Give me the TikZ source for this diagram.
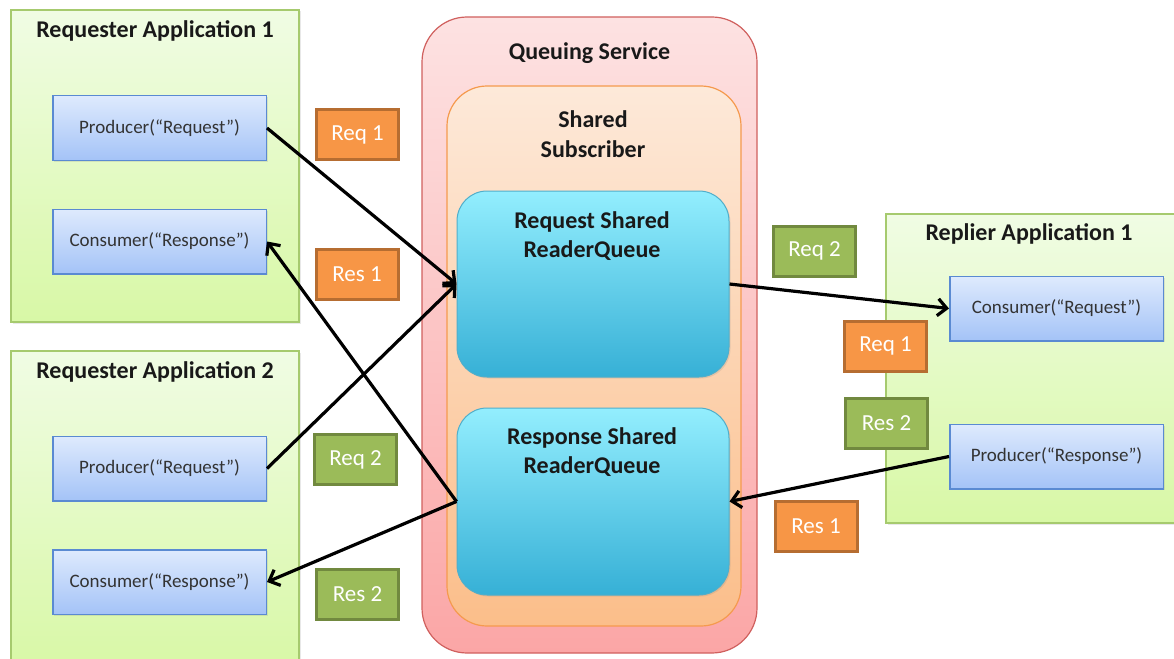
\documentclass[tikz,border=0pt]{standalone}
\usepackage{fontspec}
\setmainfont{Carlito}
\usetikzlibrary{arrows.meta,shadows,positioning}

% Colours
\definecolor{appTop}{HTML}{F0FCE4}
\definecolor{appBot}{HTML}{D8F8A6}
\definecolor{appLine}{HTML}{A6CA6E}
\definecolor{pcTop}{HTML}{DEEAFD}
\definecolor{pcBot}{HTML}{A4C3F7}
\definecolor{pcLine}{HTML}{5A8AD2}
\definecolor{qsTop}{HTML}{FDE2E2}
\definecolor{qsBot}{HTML}{FBA6A6}
\definecolor{qsLine}{HTML}{D0605E}
\definecolor{ssTop}{HTML}{FDE9D9}
\definecolor{ssBot}{HTML}{FBBE8A}
\definecolor{ssLine}{HTML}{F59A4E}
\definecolor{rqTop}{HTML}{93EEFE}
\definecolor{rqBot}{HTML}{36B0D6}
\definecolor{rqLine}{HTML}{50AECA}
\definecolor{tagOrange}{HTML}{F79646}
\definecolor{tagOrangeLine}{HTML}{B66D31}
\definecolor{tagGreen}{HTML}{9BBB59}
\definecolor{tagGreenLine}{HTML}{71893F}

\tikzset{
  softshadow/.style={drop shadow={opacity=0.18, shadow xshift=1.5pt, shadow yshift=-1.5pt}},
  appbox/.style={draw=appLine, line width=1.5pt, top color=appTop, bottom color=appBot,
    inner sep=0pt, softshadow},
  qsbox/.style={draw=qsLine, line width=1.2pt, top color=qsTop, bottom color=qsBot,
    rounded corners=45pt, inner sep=0pt},
  ssbox/.style={draw=ssLine, line width=1.2pt, top color=ssTop, bottom color=ssBot,
    rounded corners=40pt, inner sep=0pt},
  rqbox/.style={draw=rqLine, line width=1pt, top color=rqTop, bottom color=rqBot,
    rounded corners=30pt, inner sep=0pt, minimum width=272pt, softshadow},
  pcbox/.style={draw=pcLine, line width=1.5pt, top color=pcTop, bottom color=pcBot,
    minimum width=213.5pt, minimum height=64.5pt, inner sep=0pt, text=black!80,
    font=\fontsize{19}{23}\selectfont, softshadow},
  tagbox/.style={line width=3pt, minimum width=82pt, minimum height=50pt, inner sep=0pt,
    text=white, font=\fontsize{23}{28}\selectfont},
  reqtag/.style={tagbox, draw=tagOrangeLine, fill=tagOrange},
  restag/.style={tagbox, draw=tagGreenLine, fill=tagGreen},
  title/.style={anchor=base, align=center, inner sep=0pt, text=black!90,
    font=\bfseries\fontsize{24}{29}\selectfont},
  flow/.style={line width=3.2pt, -{Straight Barb[length=9pt,width=17pt]}}
}

\begin{document}
\begin{tikzpicture}[x=1pt, y=-1pt]
    \useasboundingbox (0,0) rectangle (1174,658);

    % Applications
    \node[appbox, minimum width=288pt, minimum height=312pt] (ra1) at (155,166) {};
    \node[appbox, minimum width=288pt, minimum height=318pt] (ra2) at (155,510) {};
    \node[appbox, minimum width=300pt, minimum height=309pt] (rep) at (1036,368.5) {};

    % Queuing service
    \node[qsbox, minimum width=335pt, minimum height=636pt] (qs) at (589.5,335) {};
    \node[ssbox, minimum width=294pt, minimum height=540pt] (ss) at (594,356) {};
    \node[rqbox, minimum height=186pt] (rq) at (593,284) {};
    \node[rqbox, minimum height=187pt] (rs) at (593,501.5) {};

    % Titles (base = last line)
    \node[title] (ra1t) at (155,38) {Requester Application 1};
    \node[title] (ra2t) at (155,378) {Requester Application 2};
    \node[title] (rept) at (1029,240) {Replier Application 1};
    \node[title] (qst) at (589.5,60) {Queuing Service};
    \node[title] (sst) at (593,157) {Shared\\Subscriber};
    \node[title] (rqt) at (592,257) {Request Shared\\ReaderQueue};
    \node[title] (rst) at (592,473) {Response Shared\\ReaderQueue};

    % Producers and consumers
    \node[pcbox] (p1) at (159.5,128) {Producer(“Request”)};
    \node[pcbox] (c1) at (159.5,241.5) {Consumer(“Response”)};
    \node[pcbox] (p2) at (159.5,468.5) {Producer(“Request”)};
    \node[pcbox] (c2) at (159.5,582) {Consumer(“Response”)};
    \node[pcbox] (rc) at (1056.5,308.5) {Consumer(“Request”)};
    \node[pcbox] (rp) at (1056.5,456.5) {Producer(“Response”)};

    % Messages
    \draw[flow] (p1.east) -- (rq.west);
    \draw[flow] (p2.east) -- (rq.west);
    \draw[flow] (rs.west) -- (c1.east);
    \draw[flow] (rs.west) -- (c2.east);
    \draw[flow] (rq.east) -- (rc.west);
    \draw[flow] (rp.west) -- (rs.east);

    % Tags
    \node[reqtag] (req1a) at (357.5,134.5) {Req 1};
    \node[reqtag] (res1a) at (357,274) {Res 1};
    \node[restag] (req2a) at (355.5,459.5) {Req 2};
    \node[restag] (res2a) at (357.5,594) {Res 2};
    \node[restag] (req2b) at (814.5,251) {Req 2};
    \node[reqtag] (req1b) at (885.5,346) {Req 1};
    \node[restag] (res2b) at (886.5,423) {Res 2};
    \node[reqtag] (res1b) at (816,526.5) {Res 1};
\end{tikzpicture}
\end{document}
